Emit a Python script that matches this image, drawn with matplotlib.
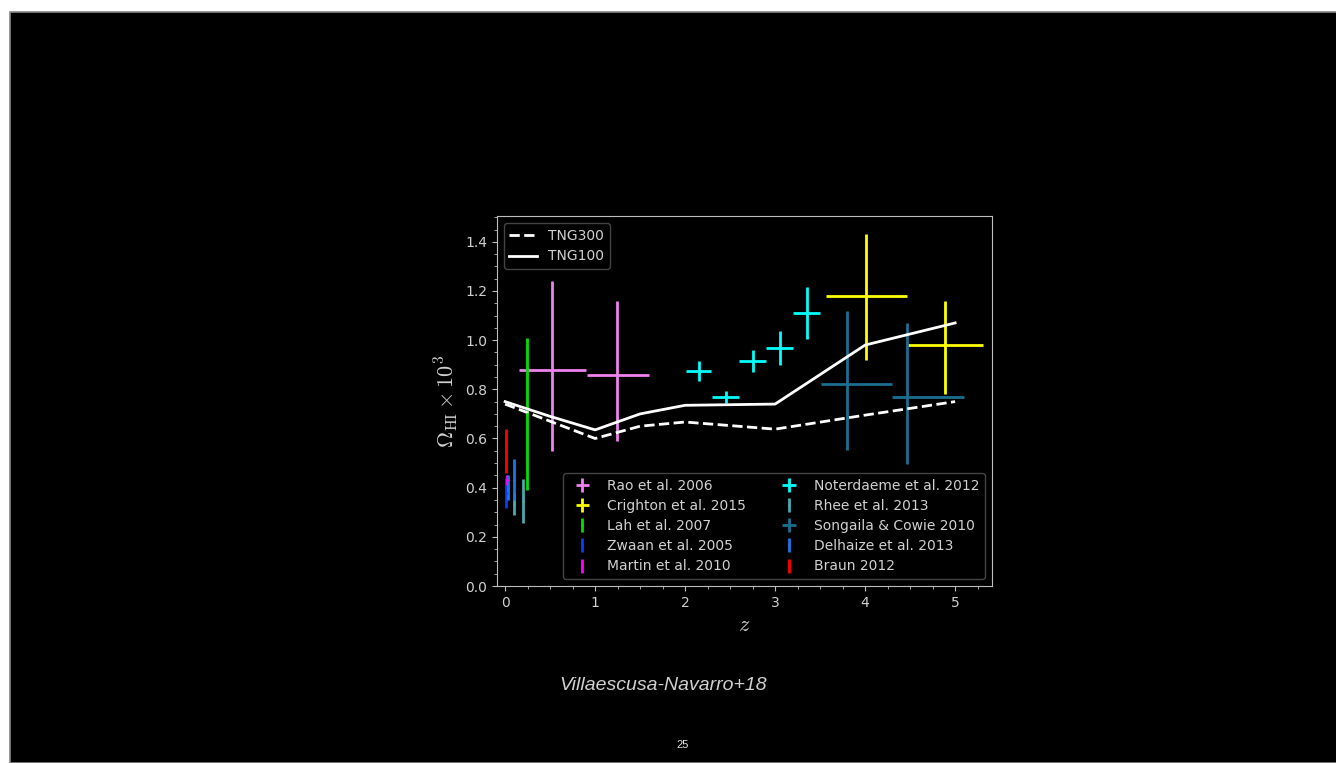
import matplotlib.pyplot as plt
import matplotlib.patches as mpatches
from matplotlib.ticker import AutoMinorLocator
import numpy as np

plt.rcParams['mathtext.fontset'] = 'cm'
plt.rcParams['font.size'] = 10

# simulation curves
z_tng100 = [0, 0.5, 1, 1.5, 2, 3, 4, 5]
om_tng100 = [0.75, 0.69, 0.635, 0.70, 0.735, 0.74, 0.98, 1.07]
z_tng300 = [0, 1, 1.5, 2, 3, 4, 5]
om_tng300 = [0.74, 0.60, 0.65, 0.667, 0.638, 0.695, 0.75]

# observations: z, omega, xerr (lo, hi), yerr (lo, hi)
rao_z = [0.52, 1.24]
rao_om = [0.88, 0.86]
rao_xerr = [[0.37, 0.33], [0.38, 0.36]]
rao_yerr = [[0.33, 0.27], [0.36, 0.30]]

crighton_z = [4.01, 4.89]
crighton_om = [1.18, 0.98]
crighton_xerr = [[0.44, 0.43], [0.45, 0.42]]
crighton_yerr = [[0.26, 0.20], [0.25, 0.18]]

lah_z = [0.24]
lah_om = [0.70]
lah_yerr = [0.31]

zwaan_z = [0.01]
zwaan_om = [0.378]
zwaan_yerr = [0.06]

martin_z = [0.026]
martin_om = [0.43]
martin_yerr = [0.02]

noter_z = [2.15, 2.45, 2.75, 3.05, 3.35]
noter_om = [0.874, 0.768, 0.915, 0.967, 1.11]
noter_xerr = [0.14, 0.15, 0.15, 0.15, 0.15]
noter_yerr = [0.04, 0.025, 0.044, 0.069, 0.107]

rhee_z = [0.1, 0.2]
rhee_om = [0.333, 0.345]
rhee_yerr = [0.045, 0.09]

songaila_z = [3.8, 4.46]
songaila_om = [0.821, 0.768]
songaila_xerr = [[0.29, 0.16], [0.50, 0.64]]
songaila_yerr = [[0.268, 0.27], [0.297, 0.30]]

delhaize_z = [0.028, 0.096]
delhaize_om = [0.40, 0.433]
delhaize_yerr = [0.05, 0.083]

braun_z = [0.006]
braun_om = [0.55]
braun_yerr = [0.09]

fig = plt.figure(figsize=(13.36, 7.63), dpi=100, facecolor='white')
# slide background
fig.patches.append(mpatches.Rectangle((10/1336, 0), 1, 1 - 12/763, transform=fig.transFigure,
                                      facecolor='black', edgecolor='#888888', linewidth=1.2, zorder=-10))

ax = fig.add_axes([497/1336, 1 - 586/763, 495/1336, 370/763])
ax.set_facecolor('black')

lw = 2
ax.errorbar(rao_z, rao_om, xerr=rao_xerr, yerr=rao_yerr, fmt='none', ecolor='violet', elinewidth=lw, label='Rao et al. 2006')
ax.errorbar(crighton_z, crighton_om, xerr=crighton_xerr, yerr=crighton_yerr, fmt='none', ecolor='yellow', elinewidth=lw, label='Crighton et al. 2015')
ax.errorbar(lah_z, lah_om, yerr=lah_yerr, fmt='.', ms=2, color='#00e000', elinewidth=lw, label='Lah et al. 2007')
ax.errorbar(zwaan_z, zwaan_om, yerr=zwaan_yerr, fmt='.', ms=2, color='#0a3cff', elinewidth=lw, label='Zwaan et al. 2005')
ax.errorbar(martin_z, martin_om, yerr=martin_yerr, fmt='.', ms=2, color='magenta', elinewidth=lw, label='Martin et al. 2010')
ax.errorbar(noter_z, noter_om, xerr=noter_xerr, yerr=noter_yerr, fmt='none', ecolor='cyan', elinewidth=lw, label='Noterdaeme et al. 2012')
ax.errorbar(rhee_z, rhee_om, yerr=rhee_yerr, fmt='.', ms=2, color='#4aa9b0', elinewidth=lw, label='Rhee et al. 2013')
ax.errorbar(songaila_z, songaila_om, xerr=songaila_xerr, yerr=songaila_yerr, fmt='none', ecolor='#1b6f8f', elinewidth=lw, label='Songaila & Cowie 2010')
ax.errorbar(delhaize_z, delhaize_om, yerr=delhaize_yerr, fmt='.', ms=2, color='#1a78e6', elinewidth=lw, label='Delhaize et al. 2013')
ax.errorbar(braun_z, braun_om, yerr=braun_yerr, fmt='.', ms=2, color='red', elinewidth=lw, label='Braun 2012')
obs_handles, obs_labels = ax.get_legend_handles_labels()

l300, = ax.plot(z_tng300, om_tng300, '--', color='white', lw=2, label='TNG300')
l100, = ax.plot(z_tng100, om_tng100, '-', color='white', lw=2, label='TNG100')

ax.set_xlim(-0.09, 5.41)
ax.set_ylim(0, 1.505)
ax.set_yticks(np.arange(0, 1.41, 0.2))
ax.set_xticks(range(6))
ax.xaxis.set_minor_locator(AutoMinorLocator(4))
ax.yaxis.set_minor_locator(AutoMinorLocator(4))

grey = '#bdbdbd'
for s in ax.spines.values():
    s.set_color(grey)
ax.tick_params(which='both', colors=grey, labelcolor='#d0d0d0', labelsize=10)
ax.set_xlabel('$z$', fontsize=16, color='#d0d0d0')
ax.set_ylabel(r'$\Omega_{\rm HI}\times10^3$', fontsize=16, color='#d0d0d0')

leg1 = ax.legend([l300, l100], ['TNG300', 'TNG100'], loc='upper left', fontsize=10,
                 labelspacing=0.5, facecolor='black', edgecolor='#555555', labelcolor='#d0d0d0')
ax.add_artist(leg1)
ax.legend(obs_handles, obs_labels, loc='lower right', ncol=2, fontsize=10, columnspacing=2.07,
          labelspacing=0.45, facecolor='black', edgecolor='#555555', labelcolor='#d0d0d0')

fig.text(663/1336, 1 - 685/763, 'Villaescusa-Navarro+18', ha='center', va='center',
         fontsize=14, style='italic', family='Liberation Sans', color='#d0d0d0')
fig.text(683/1336, 1 - 745/763, '25', ha='center', va='center', fontsize=8,
         family='Liberation Sans', color='#e0e0e0')

fig.savefig('out.png', dpi=100, facecolor=fig.get_facecolor())
